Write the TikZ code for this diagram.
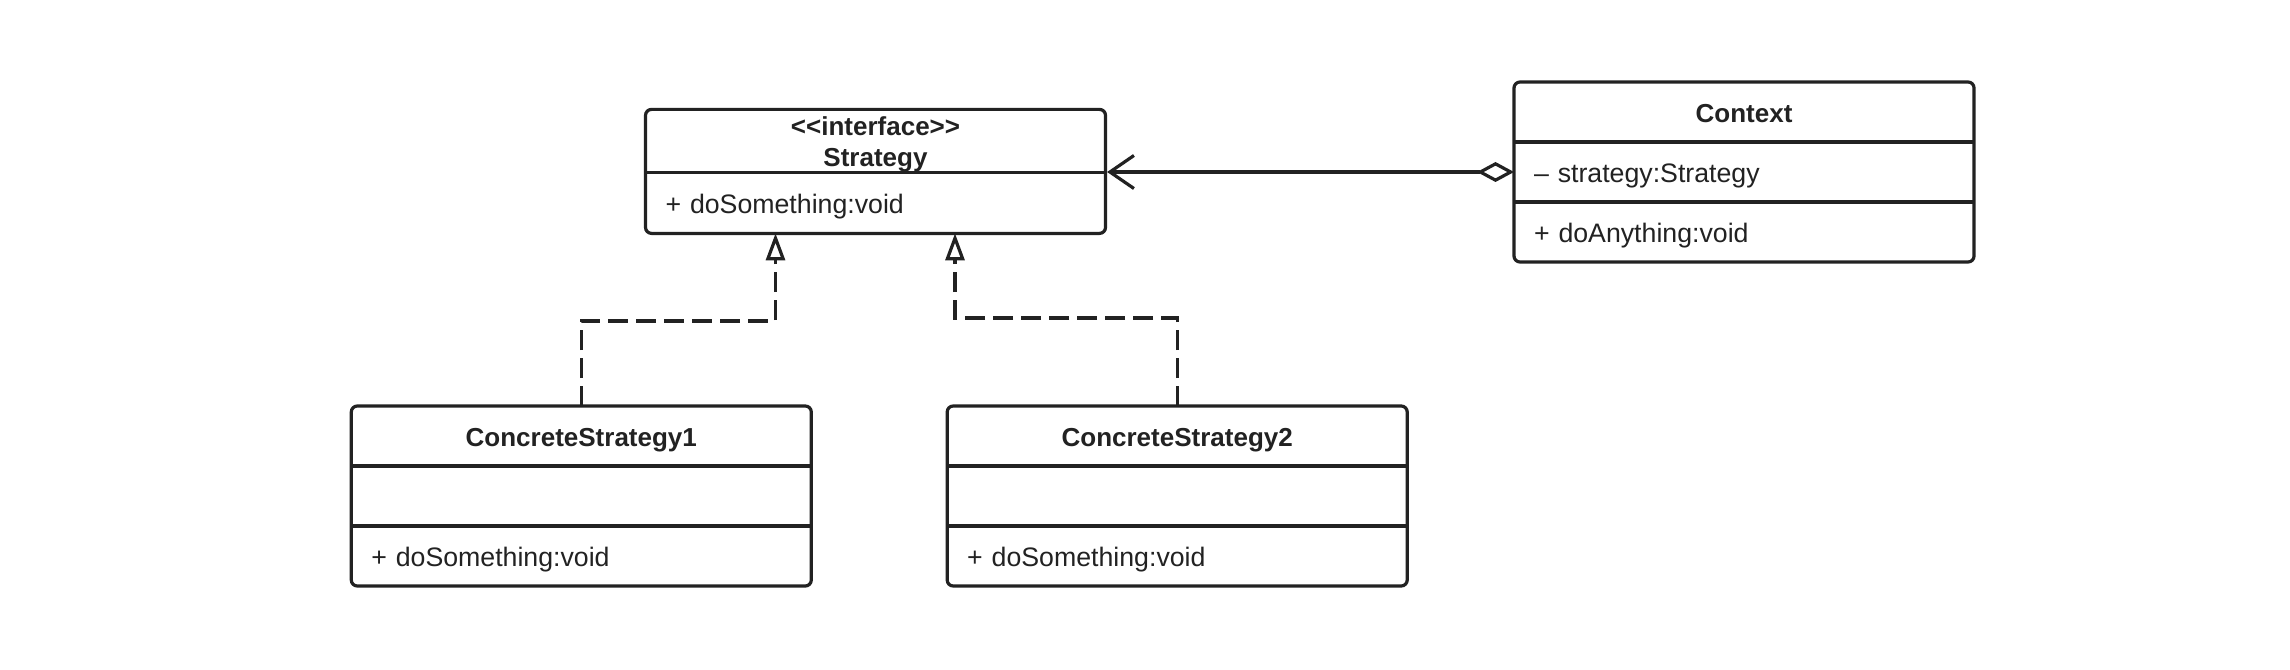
\documentclass[tikz,border=0pt]{standalone}
\usepackage{fontspec}
\setmainfont{Liberation Sans}
\usepackage{xcolor}
\usepackage{tikz}
\usetikzlibrary{
  positioning,
  arrows.meta,
  fit
}
\definecolor{umlink}{HTML}{222222}
\tikzset{
  >=Latex,
  classname/.style={rectangle,minimum width=4.6cm,minimum height=0.6cm,inner sep=0pt,outer sep=0pt,align=center,text=umlink,text height=6pt,text depth=0pt,font=\fontsize{7.4}{8.8}\selectfont\bfseries},
  classpart/.style={rectangle,minimum width=4.6cm,minimum height=0.6cm,inner xsep=0.2cm,inner ysep=0pt,outer sep=0pt,text width=4.2cm,align=left,text=umlink,text height=6pt,text depth=0pt,font=\fontsize{7.6}{8.8}\selectfont},
  classframe/.style={rectangle,draw=umlink,line width=0.032cm,rounded corners=0.06cm,inner sep=0pt},
  divider/.style={draw=umlink,line width=0.032cm},
  assoc/.style={{Diamond[open,fill=white,length=0.37cm,width=0.2cm]}-{Straight Barb[length=0.24cm,width=0.33cm]},draw=umlink,line width=0.032cm},
  realize/.style={-{Triangle[open,fill=white,length=0.27cm,width=0.19cm]},draw=umlink,line width=0.032cm,dash pattern=on 0.2cm off 0.08cm}
}

\begin{document}
\begin{tikzpicture}
    \path[use as bounding box,fill=white] (0,0) rectangle (22.9,-6.7);

    % interface
    \node[classname,minimum height=0.63cm,text height=,text depth=] (strategytitle) at (8.755,-1.409) {\rule{0pt}{7.4pt}<\kern0pt<interface>\kern0pt>\\Strategy};
    \node[classpart,below=0pt of strategytitle,minimum height=0.61cm] (strategyops) {+ doSomething:void};
    \node[classframe,fit=(strategytitle)(strategyops)] (strategy) {};
    \draw[divider] (strategytitle.south west) -- (strategytitle.south east);

    % context
    \node[classname] (contexttitle) at (17.44,-1.12) {Context};
    \node[classpart,below=0pt of contexttitle] (contextattr) {– strategy:Strategy};
    \node[classpart,below=0pt of contextattr] (contextops) {+ doAnything:void};
    \node[classframe,fit=(contexttitle)(contextops)] (context) {};
    \draw[divider] (contexttitle.south west) -- (contexttitle.south east);
    \draw[divider] (contextattr.south west) -- (contextattr.south east);

    % concrete strategies
    \node[classname] (cs1title) at (5.813,-4.36) {ConcreteStrategy1};
    \node[classpart,below=0pt of cs1title] (cs1attr) {};
    \node[classpart,below=0pt of cs1attr] (cs1ops) {+ doSomething:void};
    \node[classframe,fit=(cs1title)(cs1ops)] (cs1) {};
    \draw[divider] (cs1title.south west) -- (cs1title.south east);
    \draw[divider] (cs1attr.south west) -- (cs1attr.south east);

    \node[classname] (cs2title) at (11.772,-4.36) {ConcreteStrategy2};
    \node[classpart,below=0pt of cs2title] (cs2attr) {};
    \node[classpart,below=0pt of cs2attr] (cs2ops) {+ doSomething:void};
    \node[classframe,fit=(cs2title)(cs2ops)] (cs2) {};
    \draw[divider] (cs2title.south west) -- (cs2title.south east);
    \draw[divider] (cs2attr.south west) -- (cs2attr.south east);

    \draw[assoc] (contextattr.west) -- (contextattr.west -| strategy.east);
    \draw[realize] (cs1title.north) -- ++(0,0.85) -| ([xshift=-1cm]strategyops.south);
    \draw[realize] (cs2title.north) -- ++(0,0.88) -| ([xshift=0.795cm]strategyops.south);
\end{tikzpicture}
\end{document}
